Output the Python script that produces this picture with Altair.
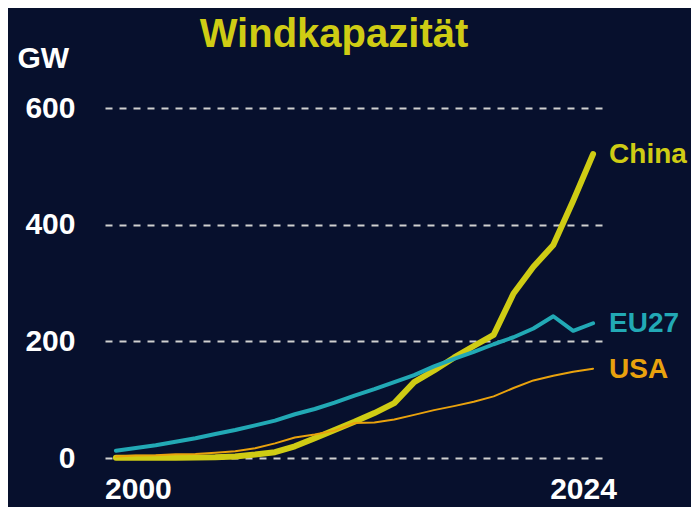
import altair as alt
import pandas as pd

years = list(range(2000, 2025))
china = [0.3, 0.4, 0.5, 0.6, 0.8, 1.3, 2.6, 5.9, 10, 20, 34, 48, 62, 77, 94,
         130, 150, 172, 192, 211, 282, 328, 365, 441, 521]
eu27 = [12.5, 17, 22, 28, 34, 41, 48, 56, 64, 75, 84, 95, 107, 118, 130,
        142, 157, 170, 182, 195, 207, 222, 243, 218, 231]
usa = [2.5, 4.2, 4.7, 6.4, 6.7, 9.1, 11.6, 16.8, 25.1, 35.1, 40.2, 46.9, 60, 61, 65.9,
       73.9, 82.1, 88.9, 96.4, 105.6, 120, 133, 141, 148, 153]
series = ["China", "EU27", "USA"]
colors = ["#cfcc14", "#22a9b5", "#e9a20d"]
widths = [6, 2, 2]
y_ticks = [0, 200, 400, 600]
x_ticks = [2000, 2024]

rows = []
for name, vals in zip(series, [china, eu27, usa]):
    for yr, v in zip(years, vals):
        rows.append({"year": yr, "value": v, "country": name})
df = pd.DataFrame(rows)
last = df[df["year"] == years[-1]]

FONT = "Liberation Sans"
BG = "#07102d"
FS = 30

x = alt.X("year:Q",
          scale=alt.Scale(domain=[1999.45, 2024.5], nice=False, zero=False),
          axis=alt.Axis(values=x_ticks, format="d", title=None, grid=False,
                        domain=False, ticks=False, labelPadding=16,
                        labelFont=FONT, labelFontSize=FS, labelFontWeight="bold",
                        labelColor="white",
                        labelOffset=alt.condition("datum.value == 2000", alt.value(22), alt.value(-10))))
y = alt.Y("value:Q",
          scale=alt.Scale(domain=[0, 600], nice=False),
          axis=alt.Axis(values=y_ticks, title="GW", titleAngle=0, titleAlign="left",
                        titleBaseline="middle", titleX=-88, titleY=-50,
                        titleFont=FONT, titleFontSize=FS, titleFontWeight="bold",
                        titleColor="white",
                        grid=True, gridDash=[7, 7], gridColor="#d0d0d0", gridWidth=2,
                        domain=False, ticks=False, labelPadding=30,
                        labelFont=FONT, labelFontSize=FS, labelFontWeight="bold",
                        labelColor="white"))
color = alt.Color("country:N", scale=alt.Scale(domain=series, range=colors), legend=None)

lines = alt.Chart(df).mark_line(strokeCap="round", strokeJoin="round").encode(
    x=x, y=y, color=color,
    strokeWidth=alt.StrokeWidth("country:N", scale=alt.Scale(domain=series, range=widths), legend=None),
    detail="country:N",
)

labels = alt.Chart(last).mark_text(align="left", baseline="middle", dx=16, dy=1,
                                   font=FONT, fontSize=28, fontWeight="bold").encode(
    x="year:Q", y="value:Q", text="country:N", color=color,
)

chart = alt.layer(lines, labels).properties(
    width=498, height=350,
    autosize=alt.AutoSizeParams(type="none"),
    padding={"left": 97, "top": 100, "right": 88, "bottom": 49},
    background=BG,
    title=alt.TitleParams("Windkapazität", font=FONT, fontSize=40, fontWeight="bold",
                          color="#cfcc14", anchor="middle", frame="group", dx=-20, dy=32,
                          offset=20),
).configure_view(stroke=None)

chart.save("out.html", embed_options={"renderer": "svg", "actions": False})
